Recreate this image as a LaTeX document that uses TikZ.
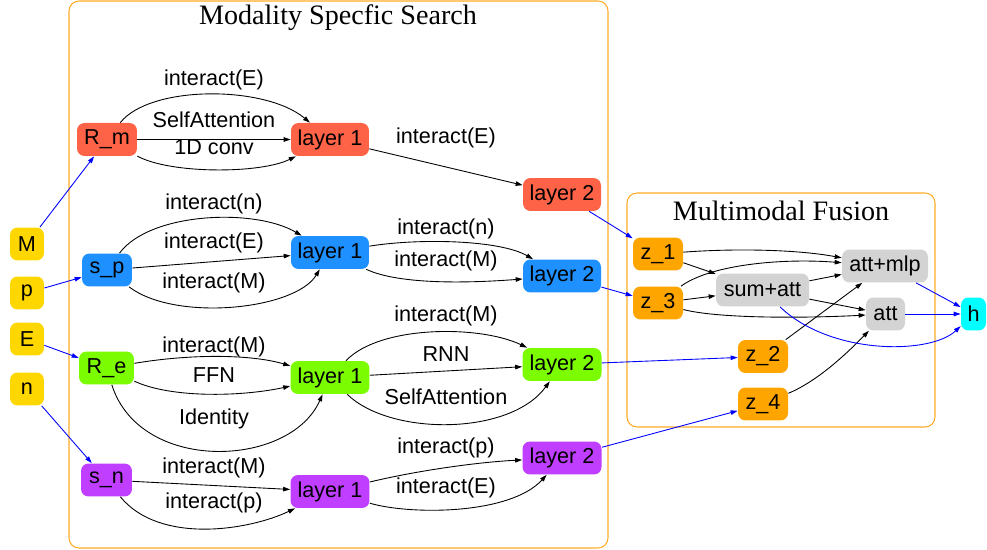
\documentclass[tikz,border=0pt]{standalone}
\usepackage{fontspec}
\setmainfont{Liberation Sans}
\newfontfamily\titlefont{Liberation Serif}
\usetikzlibrary{arrows.meta}
\definecolor{frameorange}{RGB}{255,172,40}
\definecolor{cGold}{RGB}{255,215,0}
\definecolor{cTomato}{RGB}{255,99,71}
\definecolor{cDodger}{RGB}{30,144,255}
\definecolor{cLawn}{RGB}{124,252,0}
\definecolor{cOrchid}{RGB}{191,62,255}
\definecolor{cOrange}{RGB}{255,165,0}
\definecolor{cGray}{RGB}{211,211,211}
\definecolor{cCyan}{RGB}{0,255,255}
\tikzset{
  box/.style={rounded corners=0.15cm, inner sep=0pt, minimum height=0.66cm,
    font=\fontsize{12.3}{14}\selectfont, text=black},
  lbl/.style={inner sep=0pt, font=\fontsize{12.3}{14}\selectfont},
  title/.style={inner sep=0pt, font=\titlefont\fontsize{16}{18}\selectfont},
  frame/.style={draw=frameorange, line width=0.6pt, rounded corners=0.2cm},
  edge/.style={draw=black, line width=0.5pt, -{Triangle[length=0.14cm,width=0.09cm]}},
  bedge/.style={draw=blue, line width=0.5pt, -{Triangle[length=0.14cm,width=0.09cm]}},
}
\begin{document}
\begin{tikzpicture}[x=0.02cm,y=-0.02cm]
\useasboundingbox (0,0) rectangle (987,550);

% clusters
\draw[frame] (69,1) rectangle (608,548);
\node[title] (tsearch) at (338,18) {Modality Specfic Search};
\draw[frame] (627,193) rectangle (935,427);
\node[title] (tfusion) at (781,211) {Multimodal Fusion};

% inputs
\node[box, fill=cGold, minimum width=0.68cm] (M) at (27,244) {M};
\node[box, fill=cGold, minimum width=0.68cm] (p) at (27,293) {p};
\node[box, fill=cGold, minimum width=0.68cm] (E) at (27,339) {E};
\node[box, fill=cGold, minimum width=0.68cm] (n) at (27,389) {n};

% modality rows
\node[box, fill=cTomato, minimum width=1.2cm] (Rm) at (107,139.5) {R\_m};
\node[box, fill=cTomato, minimum width=1.56cm] (L1r) at (330,139.5) {layer 1};
\node[box, fill=cTomato, minimum width=1.56cm] (L2r) at (562,194.5) {layer 2};

\node[box, fill=cDodger, minimum width=1.0cm] (sp) at (107,270) {s\_p};
\node[box, fill=cDodger, minimum width=1.56cm] (L1b) at (330,252.5) {layer 1};
\node[box, fill=cDodger, minimum width=1.56cm] (L2b) at (562,276) {layer 2};

\node[box, fill=cLawn, minimum width=1.1cm] (Re) at (106.5,368) {R\_e};
\node[box, fill=cLawn, minimum width=1.58cm] (L1g) at (330,377.5) {layer 1};
\node[box, fill=cLawn, minimum width=1.58cm] (L2g) at (562,364.5) {layer 2};

\node[box, fill=cOrchid, minimum width=1.02cm] (sn) at (106.5,480) {s\_n};
\node[box, fill=cOrchid, minimum width=1.58cm] (L1p) at (330,491.5) {layer 1};
\node[box, fill=cOrchid, minimum width=1.58cm] (L2p) at (562,458) {layer 2};

% fusion
\node[box, fill=cOrange, minimum width=1.0cm] (z1) at (658,254) {z\_1};
\node[box, fill=cOrange, minimum width=1.0cm] (z3) at (658,303) {z\_3};
\node[box, fill=cOrange, minimum width=1.0cm] (z2) at (763,356.5) {z\_2};
\node[box, fill=cOrange, minimum width=1.0cm] (z4) at (763,404) {z\_4};
\node[box, fill=cGray, minimum width=1.86cm] (sa) at (762.5,290) {sum+att};
\node[box, fill=cGray, minimum width=1.72cm] (am) at (885,266) {att+mlp};
\node[box, fill=cGray, minimum width=0.78cm] (at) at (885.5,314) {att};
\node[box, fill=cCyan, minimum width=0.5cm] (h) at (973.5,314) {h};

% input edges
\draw[bedge] (M) -- (Rm);
\draw[bedge] (p) -- (sp);
\draw[bedge] (E) -- (Re);
\draw[bedge] (n) -- (sn);

% R_m row
\draw[edge] (Rm) .. controls (150,85) and (265,85) .. (L1r);
\draw[edge] (Rm) -- (L1r);
\draw[edge] (Rm) .. controls (170,174) and (260,174) .. (L1r);
\draw[edge] (L1r) -- (L2r);
\node[lbl] (l1) at (214,80) {interact(E)};
\node[lbl] (l2) at (214,120) {SelfAttention};
\node[lbl] (l3) at (214,147) {1D conv};
\node[lbl] (l4) at (446,138) {interact(E)};

% s_p row
\draw[edge] (sp) .. controls (150,212) and (255,208) .. (L1b);
\draw[edge] (sp) -- (L1b);
\draw[edge] (sp) .. controls (175,322) and (295,310) .. (L1b);
\draw[edge] (L1b) .. controls (420,238) and (500,240) .. (L2b);
\draw[edge] (L1b) .. controls (400,285) and (470,283) .. (L2b);
\node[lbl] (l5) at (214,204) {interact(n)};
\node[lbl] (l6) at (214,243) {interact(E)};
\node[lbl] (l7) at (214,283) {interact(M)};
\node[lbl] (l8) at (446,229) {interact(n)};
\node[lbl] (l9) at (446,261) {interact(M)};

% R_e row
\draw[edge] (Re) .. controls (190,354) and (250,354) .. (L1g);
\draw[edge] (Re) .. controls (170,398) and (240,397) .. (L1g);
\draw[edge] (Re) .. controls (140,474) and (290,468) .. (L1g);
\draw[edge] (L1g) .. controls (380,325) and (480,325) .. (L2g);
\draw[edge] (L1g) -- (L2g);
\draw[edge] (L1g) .. controls (390,436) and (510,436) .. (L2g);
\node[lbl] (l10) at (214,347) {interact(M)};
\node[lbl] (l11) at (214,375) {FFN};
\node[lbl] (l12) at (214,419) {Identity};
\node[lbl] (l13) at (446,316) {interact(M)};
\node[lbl] (l14) at (446,354) {RNN};
\node[lbl] (l15) at (446,397) {SelfAttention};

% s_n row
\draw[edge] (sn) -- (L1p);
\draw[edge] (sn) .. controls (160,545) and (250,530) .. (L1p);
\draw[edge] (L1p) .. controls (420,470) and (480,462) .. (L2p);
\draw[edge] (L1p) .. controls (410,515) and (510,515) .. (L2p);
\node[lbl] (l16) at (214,468) {interact(M)};
\node[lbl] (l17) at (214,503) {interact(p)};
\node[lbl] (l18) at (446,448) {interact(p)};
\node[lbl] (l19) at (446,488) {interact(E)};

% into fusion
\draw[bedge] (L2r) -- (z1);
\draw[bedge] (L2b) -- (z3);
\draw[bedge] (L2g) -- (z2);
\draw[bedge] (L2p) -- (z4);

% fusion internals
\draw[edge] (z1) .. controls (740,248) and (800,250) .. (am);
\draw[edge] (z1) -- (sa);
\draw[edge] (z3) .. controls (710,265) and (780,258) .. (am);
\draw[edge] (z3) -- (sa);
\draw[edge] (z3) .. controls (720,319) and (810,318) .. (at);
\draw[edge] (sa) -- (am);
\draw[edge] (sa) -- (at);
\draw[edge] (z2) -- (am);
\draw[edge] (z4) .. controls (820,380) and (850,350) .. (at);
\draw[bedge] (am) -- (h);
\draw[bedge] (at) -- (h);
\draw[bedge] (sa) .. controls (830,355) and (930,355) .. (h);
\end{tikzpicture}
\end{document}
